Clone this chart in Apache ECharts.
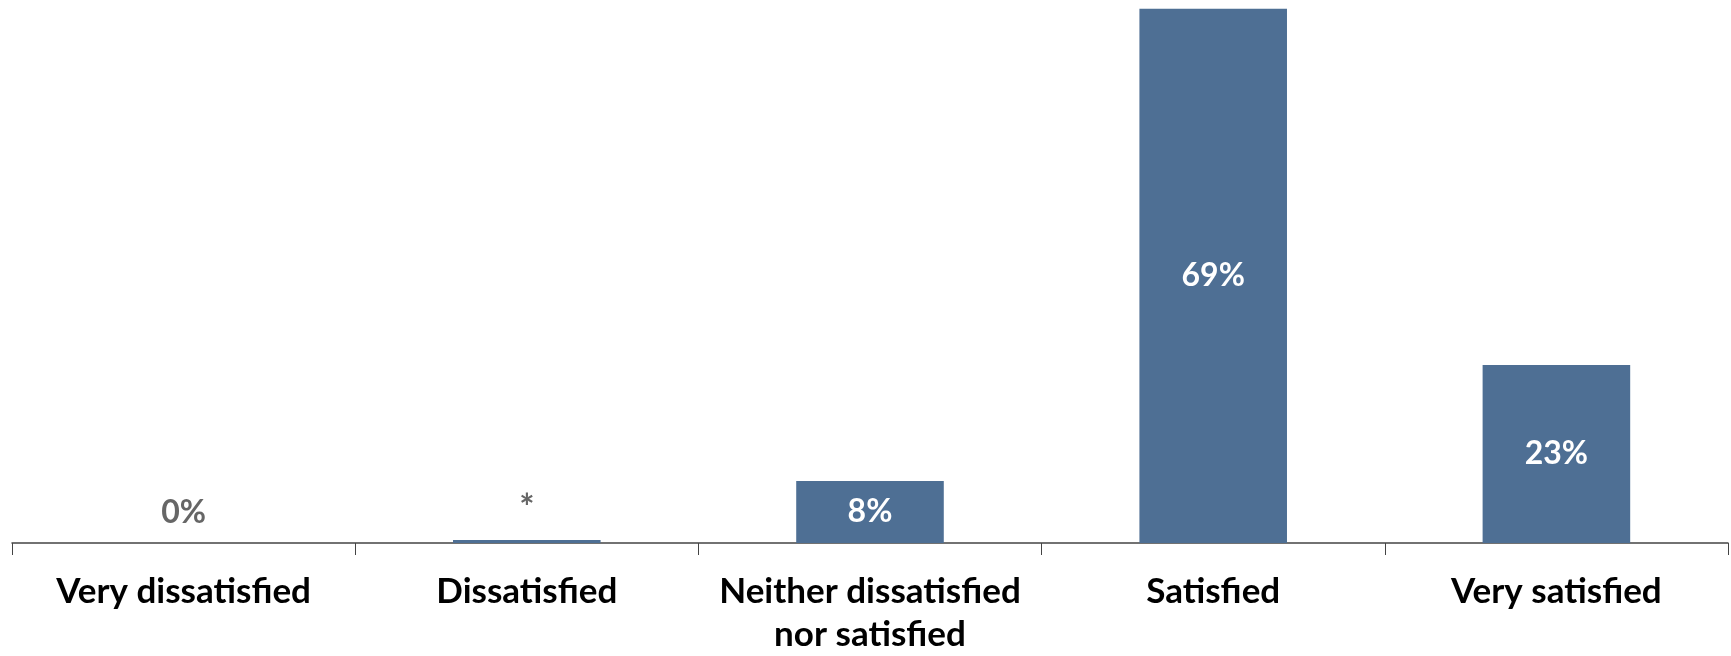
<!DOCTYPE html>
<html>
<head>
<meta charset="utf-8">
<script src="https://cdn.jsdelivr.net/npm/echarts@6/dist/echarts.min.js"></script>
<style>
  html, body { margin: 0; padding: 0; background: #fff; }
  #chart { width: 1731px; height: 656px; }
</style>
</head>
<body>
<div id="chart"></div>
<script>
// Satisfaction levels and their share of respondents (%)
const categories = [
  'Very dissatisfied',
  'Dissatisfied',
  'Neither dissatisfied\nnor satisfied',
  'Satisfied',
  'Very satisfied'
];
const values = [0, 0.4, 8, 69, 23];
// Text shown on each bar ("*" marks a share below 0.5%)
const valueLabels = ['0%', '*', '8%', '69%', '23%'];

const FONT = 'Lato, "Open Sans", sans-serif';
const BAR_COLOR = '#4E6F94';

const chart = echarts.init(document.getElementById('chart'));

const seriesData = values.map((v, i) => {
  const small = v < 1;
  return {
    value: v,
    label: {
      show: true,
      position: small ? 'top' : 'inside',
      distance: small ? 14 : 5,
      color: small ? '#666666' : '#ffffff',
      fontSize: valueLabels[i] === '*' ? 36 : 32,
      formatter: valueLabels[i]
    }
  };
});

chart.setOption({
  animation: false,
  grid: { left: 12, right: 3, top: 1, bottom: 108, containLabel: false },
  xAxis: {
    type: 'category',
    data: categories,
    boundaryGap: true,
    axisLine: { show: true, lineStyle: { color: '#444', width: 1.5 } },
    axisTick: { show: true, length: 12, lineStyle: { color: '#444', width: 1 } },
    axisLabel: {
      interval: 0,
      margin: 27,
      color: '#000',
      fontFamily: FONT,
      fontWeight: 'bold',
      fontSize: 35,
      lineHeight: 43
    }
  },
  yAxis: {
    type: 'value',
    min: 0,
    max: 70,
    show: false,
    splitLine: { show: false }
  },
  series: [{
    type: 'bar',
    data: seriesData,
    barWidth: '43%',
    itemStyle: { color: BAR_COLOR },
    label: {
      fontFamily: FONT,
      fontWeight: 'bold',
      fontSize: 32
    }
  }]
});
</script>
</body>
</html>
